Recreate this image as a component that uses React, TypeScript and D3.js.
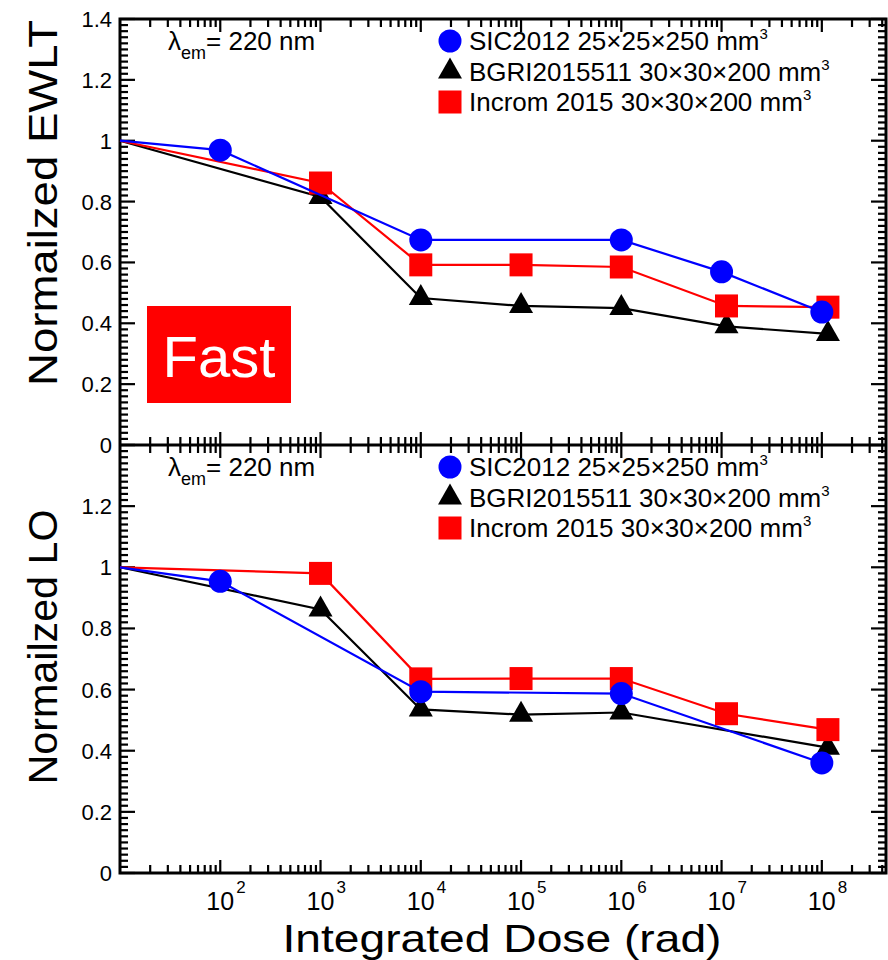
import React from 'react';
import * as d3 from 'd3';

// ---------- data ----------
const xTickExponents = ['2', '3', '4', '5', '6', '7', '8'];
const yTickLabelsTop = ['0', '0.2', '0.4', '0.6', '0.8', '1', '1.2', '1.4'];
const yTickLabelsBottom = ['0', '0.2', '0.4', '0.6', '0.8', '1', '1.2'];

const seriesNames = ['SIC2012 25×25×250 mm', 'BGRI2015511 30×30×200 mm', 'Incrom 2015 30×30×200 mm'];
const seriesColors = ['#0000ff', '#000000', '#ff0000'];
const seriesShapes = ['circle', 'triangle', 'square'];

// Normalized EWLT (top)
const sicEwltDose = [1e1, 1e2, 1e4, 1e6, 1e7, 1e8];
const sicEwlt = [1, 0.969, 0.674, 0.674, 0.569, 0.437];
const bgriEwltDose = [1e1, 1e3, 1e4, 1e5, 1e6, 1.12e7, 1.15e8];
const bgriEwlt = [1, 0.815, 0.483, 0.457, 0.45, 0.39, 0.365];
const incromEwltDose = [1e1, 1e3, 1e4, 1e5, 1e6, 1.12e7, 1.15e8];
const incromEwlt = [1, 0.861, 0.592, 0.592, 0.585, 0.457, 0.453];

// Normalized LO (bottom)
const sicLoDose = [1e1, 1e2, 1e4, 1e6, 1e8];
const sicLo = [1, 0.954, 0.593, 0.587, 0.36];
const bgriLoDose = [1e1, 1e3, 1e4, 1e5, 1e6, 1.15e8];
const bgriLo = [1, 0.862, 0.535, 0.518, 0.525, 0.41];
const incromLoDose = [1e1, 1e3, 1e4, 1e5, 1e6, 1.12e7, 1.15e8];
const incromLo = [1, 0.98, 0.635, 0.636, 0.636, 0.521, 0.469];

// ---------- layout ----------
const W = 888;
const H = 960;
const L = 120;
const R = 886;
const TOP = 19;
const MID = 445;
const BOT = 873;
const FONT = "'Liberation Sans', Arial, Helvetica, sans-serif";

const x = d3.scaleLog().domain([10, Math.pow(10, 8.64)]).range([L, R]);
const yTop = d3.scaleLinear().domain([0, 1.4]).range([MID, TOP]);
const yBot = d3.scaleLinear().domain([0, 1.4]).range([BOT, MID]);

const xTicks = x.ticks().filter((t) => t > 10 && t < x.domain()[1]);
const isMajorX = (t: number) => Math.abs(Math.log10(t) - Math.round(Math.log10(t))) < 1e-9;
const yTicks = d3.range(0, 71).map((i) => ({ v: i * 0.02, major: i % 10 === 0 }));

function Marker({ shape, cx, cy, color }: { shape: string; cx: number; cy: number; color: string }) {
  if (shape === 'circle') return <circle cx={cx} cy={cy} r={11.5} fill={color} />;
  if (shape === 'square') return <rect x={cx - 11.5} y={cy - 11.5} width={23} height={23} fill={color} />;
  return <path d={`M${cx},${cy - 14}L${cx + 12},${cy + 7}L${cx - 12},${cy + 7}Z`} fill={color} />;
}

function Series({ dose, vals, y, idx }: { dose: number[]; vals: number[]; y: any; idx: number }) {
  const pts: [number, number][] = dose.map((d, i) => [x(d), y(vals[i])]);
  const line = d3.line()(pts) as string;
  return (
    <g>
      <path d={line} fill="none" stroke={seriesColors[idx]} strokeWidth={2.2} />
      {pts.slice(1).map((p, i) => (
        <Marker key={i} shape={seriesShapes[idx]} cx={p[0]} cy={p[1]} color={seriesColors[idx]} />
      ))}
    </g>
  );
}

function Legend({ top }: { top: number }) {
  return (
    <g fontFamily={FONT}>
      <text x={168} y={top + 31} fontSize={26} fill="#000">
        λ<tspan fontSize={18} dy={9}>em</tspan>
        <tspan fontSize={26} dy={-9}>= 220 nm</tspan>
      </text>
      {seriesNames.map((name, i) => {
        const by = top + 31 + i * 30.5;
        return (
          <g key={i}>
            <Marker shape={seriesShapes[i]} cx={450} cy={by - 9} color={seriesColors[i]} />
            <text x={469} y={by} fontSize={26} fill="#000">
              {name}
              <tspan fontSize={15} dy={-11}>3</tspan>
            </text>
          </g>
        );
      })}
    </g>
  );
}

function YAxisTicks({ y, labels }: { y: any; labels: string[] }) {
  return (
    <g>
      {yTicks.map((t, i) => {
        const len = t.major ? 15 : 8;
        const yy = y(t.v);
        return (
          <g key={i}>
            <line x1={L} x2={L + len} y1={yy} y2={yy} stroke="#000" strokeWidth={2.2} />
            <line x1={R} x2={R - len} y1={yy} y2={yy} stroke="#000" strokeWidth={2.2} />
          </g>
        );
      })}
      {labels.map((lab, i) => (
        <text key={i} x={112} y={y(i * 0.2) + 8} textAnchor="end" fontSize={22} fontFamily={FONT} fill="#000">
          {lab}
        </text>
      ))}
    </g>
  );
}

export default function App() {
  return (
    <svg width={W} height={H} style={{ position: 'absolute', left: 0, top: 0, background: '#fff' }}>
      <rect x={0} y={0} width={W} height={H} fill="#fff" />

      {/* y ticks */}
      <YAxisTicks y={yTop} labels={yTickLabelsTop} />
      <YAxisTicks y={yBot} labels={yTickLabelsBottom} />

      {/* x ticks */}
      {xTicks.map((t, i) => {
        const xx = x(t);
        const len = isMajorX(t) ? 13 : 8;
        return (
          <g key={i} stroke="#000" strokeWidth={2.2}>
            <line x1={xx} x2={xx} y1={TOP} y2={TOP + len} />
            <line x1={xx} x2={xx} y1={MID - len} y2={MID + len} />
            <line x1={xx} x2={xx} y1={BOT} y2={BOT - len} />
          </g>
        );
      })}

      {/* frame */}
      <rect x={L} y={TOP} width={R - L} height={BOT - TOP} fill="none" stroke="#000" strokeWidth={3} />
      <line x1={L} x2={R} y1={MID} y2={MID} stroke="#000" strokeWidth={3} />

      {/* x tick labels */}
      {xTickExponents.map((e, i) => {
        const xx = x(Math.pow(10, +e));
        return (
          <g key={i} fontFamily={FONT} fill="#000">
            <text x={xx - 14} y={910} fontSize={25}>10</text>
            <text x={xx + 16} y={893} fontSize={17}>{e}</text>
          </g>
        );
      })}

      {/* Fast box */}
      <rect x={147} y={306} width={144} height={97} fill="#ff0000" />
      <text x={219} y={377} textAnchor="middle" fontSize={58} fill="#fff" fontFamily={FONT}>
        Fast
      </text>

      {/* series: top */}
      <Series dose={bgriEwltDose} vals={bgriEwlt} y={yTop} idx={1} />
      <Series dose={incromEwltDose} vals={incromEwlt} y={yTop} idx={2} />
      <Series dose={sicEwltDose} vals={sicEwlt} y={yTop} idx={0} />

      {/* series: bottom */}
      <Series dose={bgriLoDose} vals={bgriLo} y={yBot} idx={1} />
      <Series dose={incromLoDose} vals={incromLo} y={yBot} idx={2} />
      <Series dose={sicLoDose} vals={sicLo} y={yBot} idx={0} />

      <Legend top={TOP} />
      <Legend top={MID} />

      {/* axis titles */}
      <text
        transform="translate(57,203) rotate(-90)"
        textAnchor="middle"
        fontSize={41}
        fontFamily={FONT}
        textLength={366}
        lengthAdjust="spacingAndGlyphs"
        fill="#000"
      >
        Normailzed EWLT
      </text>
      <text
        transform="translate(57,647) rotate(-90)"
        textAnchor="middle"
        fontSize={41}
        fontFamily={FONT}
        textLength={275}
        lengthAdjust="spacingAndGlyphs"
        fill="#000"
      >
        Normailzed LO
      </text>
      <text
        x={502}
        y={952}
        textAnchor="middle"
        fontSize={39}
        fontFamily={FONT}
        textLength={439}
        lengthAdjust="spacingAndGlyphs"
        fill="#000"
      >
        Integrated Dose (rad)
      </text>
    </svg>
  );
}
